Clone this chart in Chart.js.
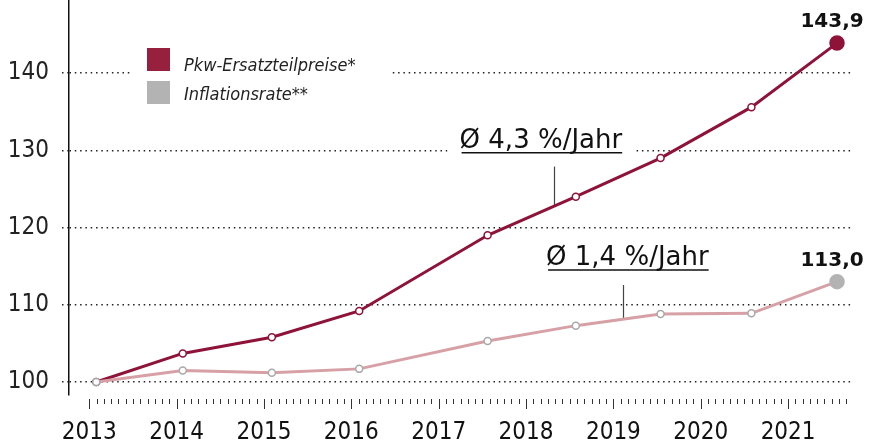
<!DOCTYPE html>
<html>
<head>
<meta charset="utf-8">
<script src="https://cdn.jsdelivr.net/npm/chart.js@4.4.0/dist/chart.umd.min.js"></script>
<style>
  html, body { margin: 0; padding: 0; background: #fff; }
</style>
</head>
<body>
<canvas id="chart" width="869" height="441"></canvas>
<script>
// time positions of the measurements (decimal years)
const xPos = [2013.08, 2014.07, 2015.09, 2016.09, 2017.56, 2018.57, 2019.54, 2020.58, 2021.56]
const ersatzteile = [100, 103.7, 105.8, 109.2, 119.0, 124.0, 129.0, 135.6, 143.9]
const inflation = [100, 101.5, 101.2, 101.7, 105.3, 107.3, 108.8, 108.9, 113.0]

const yearTicks = [2013, 2014, 2015, 2016, 2017, 2018, 2019, 2020, 2021]
const yTicks = [100, 110, 120, 130, 140]

const legendLabels = ['Pkw-Ersatzteilpreise*', 'Inflationsrate**']
const avgLabels = ['Ø 4,3 %/Jahr', 'Ø 1,4 %/Jahr']

const RED = '#8f1239'
const PINK = '#d7a0a6'
const GREY = '#b3b3b3'
const condensed = "'DejaVu Sans Condensed', 'Liberation Sans Narrow', sans-serif"

const toPoints = (xs, ys) => xs.map((x, i) => ({x: x, y: ys[i]}))
const last = xPos.length - 1

function valueAt(xs, ys, x) {
    for (let i = 0; i < xs.length - 1; i++) {
        if (x >= xs[i] && x <= xs[i + 1]) {
            return ys[i] + (ys[i + 1] - ys[i]) * (x - xs[i]) / (xs[i + 1] - xs[i])
        }
    }
    return ys[ys.length - 1]
}

// annotation anchors in data space
const annotations = [
    {text: avgLabels[0], cx: 2018.17, base: 130.35, tickX: 2018.32, tickTop: 127.9, ys: ersatzteile},
    {text: avgLabels[1], cx: 2019.16, base: 115.16, tickX: 2019.11, tickTop: 112.56, ys: inflation}
]

const noPadding = s => {
    s.paddingTop = 0
    s.paddingBottom = 0
    s.paddingLeft = 0
    s.paddingRight = 0
}

const decorations = {
    id: 'decorations',
    beforeDatasetsDraw(chart) {
        const {ctx, scales: {x, y}, chartArea} = chart
        ctx.save()

        // monthly ticks under the plot
        ctx.strokeStyle = '#333'
        ctx.lineWidth = 1
        for (let m = 0; m <= 8 * 12 + 8; m++) {
            const px = Math.round(x.getPixelForValue(2013 + m / 12)) + 0.5
            const major = m % 12 === 0
            ctx.beginPath()
            ctx.moveTo(px, chartArea.bottom + 4)
            ctx.lineTo(px, chartArea.bottom + (major ? 14 : 9))
            ctx.stroke()
        }

        // legend
        ctx.fillStyle = '#fff'
        ctx.fillRect(132, 38, 260, 72)
        ctx.fillStyle = '#97203f'
        ctx.fillRect(147, 48, 23, 23)
        ctx.fillStyle = GREY
        ctx.fillRect(147, 81, 23, 23)
        ctx.fillStyle = '#222'
        ctx.font = "italic 18px " + condensed
        ctx.textAlign = 'left'
        ctx.textBaseline = 'alphabetic'
        ctx.fillText(legendLabels[0], 184, 71)
        ctx.fillText(legendLabels[1], 184, 100)

        // average growth labels
        ctx.font = "26px 'DejaVu Sans', sans-serif"
        annotations.forEach(a => {
            const w = ctx.measureText(a.text).width
            const cx = x.getPixelForValue(a.cx)
            const by = y.getPixelForValue(a.base)
            const left = cx - w / 2
            ctx.fillStyle = '#fff'
            ctx.fillRect(left - 12, by - 24, w + 23, 33)
            ctx.fillStyle = '#111'
            ctx.textAlign = 'left'
            ctx.fillText(a.text, left, by)
            ctx.strokeStyle = '#111'
            ctx.lineWidth = 1.5
            ctx.beginPath()
            ctx.moveTo(left + 2, by + 5)
            ctx.lineTo(left + w, by + 5)
            ctx.stroke()

            const tx = Math.round(x.getPixelForValue(a.tickX)) + 0.5
            ctx.strokeStyle = '#444'
            ctx.lineWidth = 1.2
            ctx.beginPath()
            ctx.moveTo(tx, y.getPixelForValue(a.tickTop))
            ctx.lineTo(tx, y.getPixelForValue(valueAt(xPos, a.ys, a.tickX)))
            ctx.stroke()
        })
        ctx.restore()
    },
    afterDatasetsDraw(chart) {
        const {ctx} = chart
        ctx.save()
        ctx.font = "bold 20px 'DejaVu Sans', sans-serif"
        ctx.fillStyle = '#111'
        ctx.textAlign = 'center'
        ctx.textBaseline = 'alphabetic'
        chart.data.datasets.forEach((ds, i) => {
            const pt = chart.getDatasetMeta(i).data[last]
            const v = ds.data[last].y
            ctx.fillText(v.toFixed(1).replace('.', ','), pt.x - 5, pt.y - 16)
        })
        ctx.restore()
    }
}

const ctx = document.getElementById('chart')

new Chart(ctx, {
    type: 'line',
    data: {
        datasets: [
            {
                label: legendLabels[1],
                data: toPoints(xPos, inflation),
                borderColor: PINK,
                borderWidth: 3,
                tension: 0,
                pointRadius: c => c.dataIndex === last ? 7 : 3.5,
                pointBackgroundColor: c => c.dataIndex === last ? GREY : '#fff',
                pointBorderColor: c => c.dataIndex === last ? GREY : '#a9a9a9',
                pointBorderWidth: 1.5
            },
            {
                label: legendLabels[0],
                data: toPoints(xPos, ersatzteile),
                borderColor: RED,
                borderWidth: 3,
                tension: 0,
                pointRadius: c => c.dataIndex === last ? 7 : 3.5,
                pointBackgroundColor: c => c.dataIndex === last ? RED : '#fff',
                pointBorderColor: RED,
                pointBorderWidth: 1.5
            }
        ]
    },
    options: {
        responsive: false,
        animation: false,
        devicePixelRatio: 1,
        layout: {autoPadding: false, padding: {top: 0, right: 16, bottom: 0, left: 0}},
        plugins: {legend: {display: false}, tooltip: {enabled: false}},
        scales: {
            x: {
                type: 'linear',
                min: 2012.768,
                max: 2021.743,
                afterBuildTicks: s => { s.ticks = yearTicks.map(v => ({value: v})) },
                afterFit: s => { s.height = 46; noPadding(s) },
                grid: {display: false, drawTicks: false},
                border: {display: false},
                ticks: {
                    callback: v => String(v),
                    autoSkip: false,
                    maxRotation: 0,
                    padding: 23,
                    color: '#111',
                    font: {family: condensed, size: 24}
                }
            },
            y: {
                min: 98.316,
                max: 149.48,
                afterBuildTicks: s => { s.ticks = yTicks.map(v => ({value: v})) },
                afterFit: s => { s.width = 69; noPadding(s) },
                grid: {color: '#222', lineWidth: 1.5, tickLength: 7, tickColor: '#222', tickBorderDash: [1.5, 3.8]},
                border: {display: true, color: '#111', width: 1.5, dash: [1.5, 3.8]},
                ticks: {
                    padding: 13,
                    color: '#222',
                    font: {family: condensed, size: 24}
                }
            }
        }
    },
    plugins: [decorations]
})
</script>
</body>
</html>
